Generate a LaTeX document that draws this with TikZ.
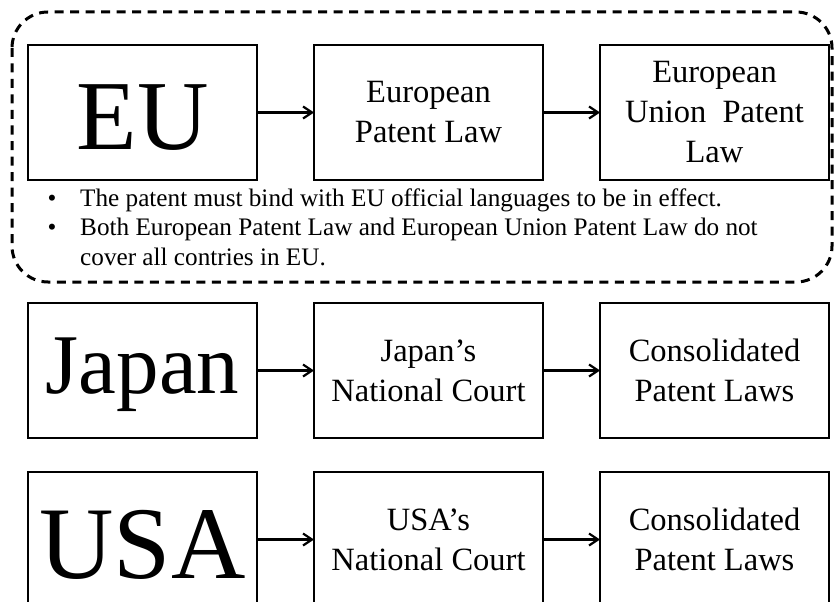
\documentclass[tikz,border=0pt]{standalone}
\usepackage{fontspec}
\setmainfont{Liberation Serif}
\usetikzlibrary{positioning, arrows.meta}

\begin{document}
\begin{tikzpicture}[x=1bp, y=-1bp, node distance=57bp,
    box/.style={rectangle, draw, line width=2.8bp, outer sep=0pt, inner sep=2bp, minimum width=229bp, minimum height=135bp, align=center, font=\fontsize{32.5bp}{40bp}\selectfont},
    country/.style={box, font=\fontsize{#1}{#1}\selectfont},
    flow/.style={draw, line width=2.2bp, -{Straight Barb[length=9bp, width=12bp, line width=2.2bp]}},
    group/.style={draw, line width=3bp, dash pattern=on 9bp off 6.5bp, rounded corners=36bp},
    note/.style={inner sep=0pt, anchor=base west, align=left, font=\fontsize{25.2bp}{29bp}\selectfont}]
    \useasboundingbox (0,0) rectangle (835,602);
    \clip (0,0) rectangle (835,602);
    % EU row with its frame
    \draw [group] (12,12) rectangle (832,282);
    \node [country=99bp, text height=75bp, text depth=0bp] (eu) at (142.5,112.5) {EU};
    \node [box, right=of eu] (epl) {European\\Patent Law};
    \node [box, right=of epl] (eupl) {European\\Union~ Patent\\Law};
    \node [note] (notes) at (47.4,207) {\begin{tabular}[t]{@{}l@{\hspace{23.8bp}}l@{}}
        \textbullet & The patent must bind with EU official languages to be in effect.\\
        \textbullet & Both European Patent Law and European Union Patent Law do not\\
        & cover all contries in EU.
    \end{tabular}};
    % Japan and USA rows
    \node [country=85bp, text height=64bp, text depth=19bp, below=123bp of eu] (jp) {Japan};
    \node [box, right=of jp] (jpcourt) {Japan’s\\National Court};
    \node [box, right=of jpcourt] (jplaws) {Consolidated\\Patent Laws};
    \node [country=103bp, text height=77bp, text depth=0bp, below=34bp of jp] (usa) {USA};
    \node [box, right=of usa] (usacourt) {USA’s\\National Court};
    \node [box, right=of usacourt] (usalaws) {Consolidated\\Patent Laws};
    \path [flow] (eu) -- (epl);
    \path [flow] (epl) -- (eupl);
    \path [flow] (jp) -- (jpcourt);
    \path [flow] (jpcourt) -- (jplaws);
    \path [flow] (usa) -- (usacourt);
    \path [flow] (usacourt) -- (usalaws);
\end{tikzpicture}
\end{document}
